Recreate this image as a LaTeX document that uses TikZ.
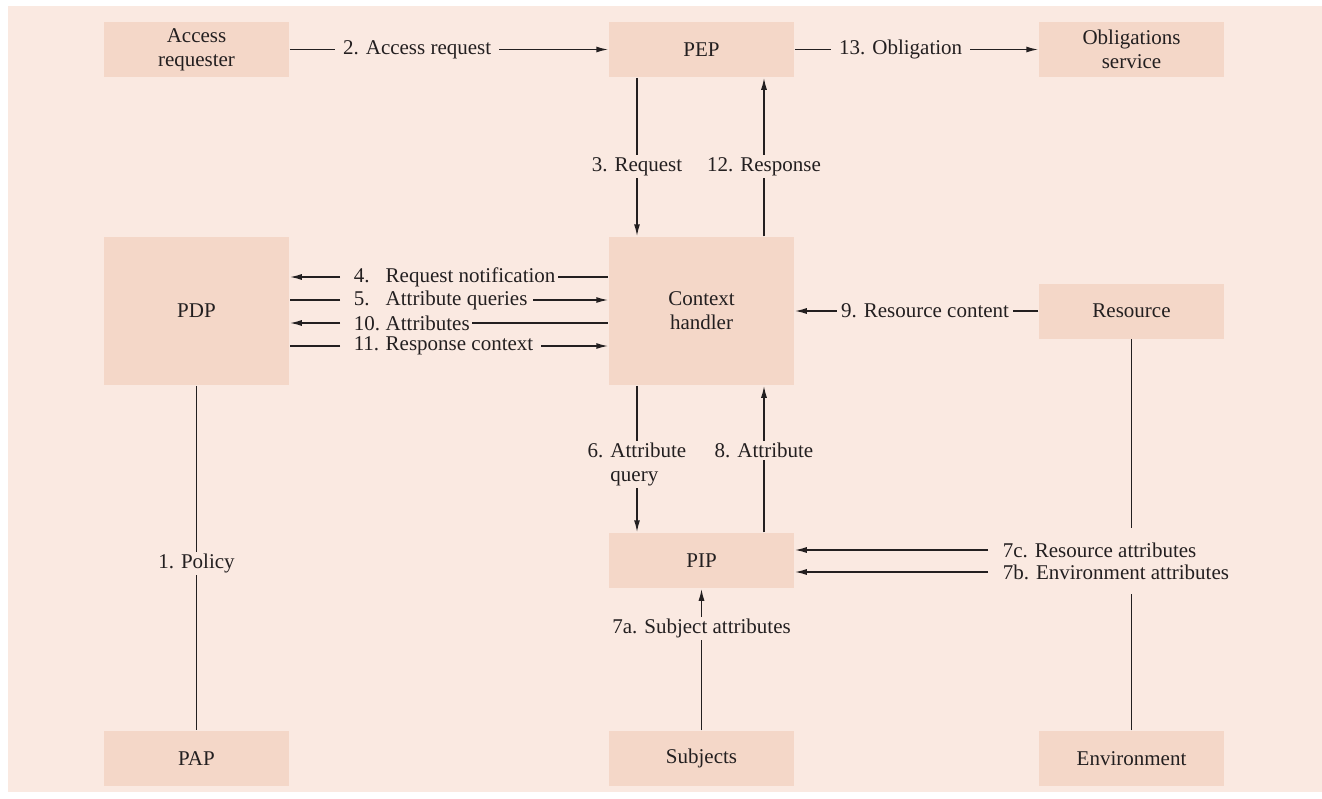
\documentclass[tikz,border=0pt]{standalone}
\usepackage{fontspec}
\setmainfont{Liberation Serif}
\usepackage{xcolor}
\usetikzlibrary{arrows.meta}

\definecolor{bgpink}{RGB}{250,233,225}
\definecolor{boxpink}{RGB}{244,215,200}
\definecolor{ink}{RGB}{35,31,32}

\tikzset{
  box/.style={fill=boxpink, minimum width=185pt, minimum height=55pt, inner sep=0pt, align=center},
  bigbox/.style={box, minimum height=148pt},
  lbl/.style={fill=bgpink, inner xsep=8pt, inner ysep=2pt},
  flowlbl/.style={lbl, inner xsep=2pt, anchor=west}
}

\begin{document}
\begin{tikzpicture}[x=1pt, y=-1pt, line width=1.5pt, draw=ink, text=ink,
    >={Latex[length=12pt,width=6pt]}, font=\fontsize{21}{24}\selectfont]
        \useasboundingbox (0,0) rectangle (1322,798);
        \fill[bgpink] (8,6) rectangle (1322,792);

        % boxes
        \node[box]    (ar)  at (196.5,49.5)  {Access\\requester};
        \node[box]    (pep) at (701.5,49.5)  {PEP};
        \node[box]    (obl) at (1131.5,49.5) {Obligations\\service};
        \node[bigbox] (pdp) at (196.5,311)   {PDP};
        \node[bigbox] (ch)  at (701.5,311)   {Context\\handler};
        \node[box]    (res) at (1131.5,311)  {Resource};
        \node[box]    (pip) at (701.5,560.5) {PIP};
        \node[box]    (pap) at (196.5,758.5) {PAP};
        \node[box]    (sub) at (701.5,758.5) {Subjects};
        \node[box]    (env) at (1131.5,758.5) {Environment};

        % top row
        \draw[->] (ar) -- node[lbl, pos=0.40] {2. Access request} (pep);
        \draw[->] (pep) -- node[lbl, pos=0.435] {13. Obligation} (obl);

        % PEP and context handler
        \draw[->] ([xshift=-64.5pt]pep.south) -- node[lbl, pos=0.56] {3. Request} ([xshift=-64.5pt]ch.north);
        \draw[->] ([xshift=62.5pt]ch.north) -- node[lbl, pos=0.44] {12. Response} ([xshift=62.5pt]pep.south);

        % PDP and context handler
        \node[flowlbl] (l4)  at (351,277) {\makebox[32pt][l]{4.}Request notification};
        \node[flowlbl] (l5)  at (351,300) {\makebox[32pt][l]{5.}Attribute queries};
        \node[flowlbl] (l10) at (351,323) {\makebox[32pt][l]{10.}Attributes};
        \node[flowlbl] (l11) at (351,346) {\makebox[32pt][l]{11.}Response context};
        \draw[->] ([xshift=-11pt]l4.west) -- (pdp.east |- l4.west);
        \draw (l4.east) -- (ch.west |- l4.east);
        \draw ([xshift=-11pt]l5.west) -- (pdp.east |- l5.west);
        \draw[->] ([xshift=3pt]l5.east) -- (ch.west |- l5.east);
        \draw[->] ([xshift=-11pt]l10.west) -- (pdp.east |- l10.west);
        \draw (l10.east) -- (ch.west |- l10.east);
        \draw ([xshift=-11pt]l11.west) -- (pdp.east |- l11.west);
        \draw[->] ([xshift=5pt]l11.east) -- (ch.west |- l11.east);

        \draw[->] (res) -- node[lbl, pos=0.465, inner xsep=4pt] {9. Resource content} (ch);

        % context handler and PIP
        \draw[->] ([xshift=-64.5pt]ch.south) -- node[lbl, pos=0.54, align=left] {6. Attribute\\\hphantom{6. }query} ([xshift=-64.5pt]pip.north);
        \draw[->] ([xshift=62.5pt]pip.north) -- node[lbl, pos=0.56] {8. Attribute} ([xshift=62.5pt]ch.south);

        % attributes into PIP
        \node[flowlbl] (l7c) at (1000,550) {7c. Resource attributes};
        \node[flowlbl] (l7b) at (1000,572) {7b. Environment attributes};
        \draw[->] ([xshift=-12pt]l7c.west) -- (pip.east |- l7c.west);
        \draw[->] ([xshift=-12pt]l7b.west) -- (pip.east |- l7b.west);
        \draw (res.south) -- ([yshift=12pt]res.south |- l7c.north);
        \draw (env.north) -- ([yshift=-12pt]env.north |- l7b.south);
        \draw[->] (sub) -- node[lbl, pos=0.72] {7a. Subject attributes} (pip);

        % policy
        \draw (pdp) -- node[lbl, pos=0.517] {1. Policy} (pap);
    \end{tikzpicture}
\end{document}
